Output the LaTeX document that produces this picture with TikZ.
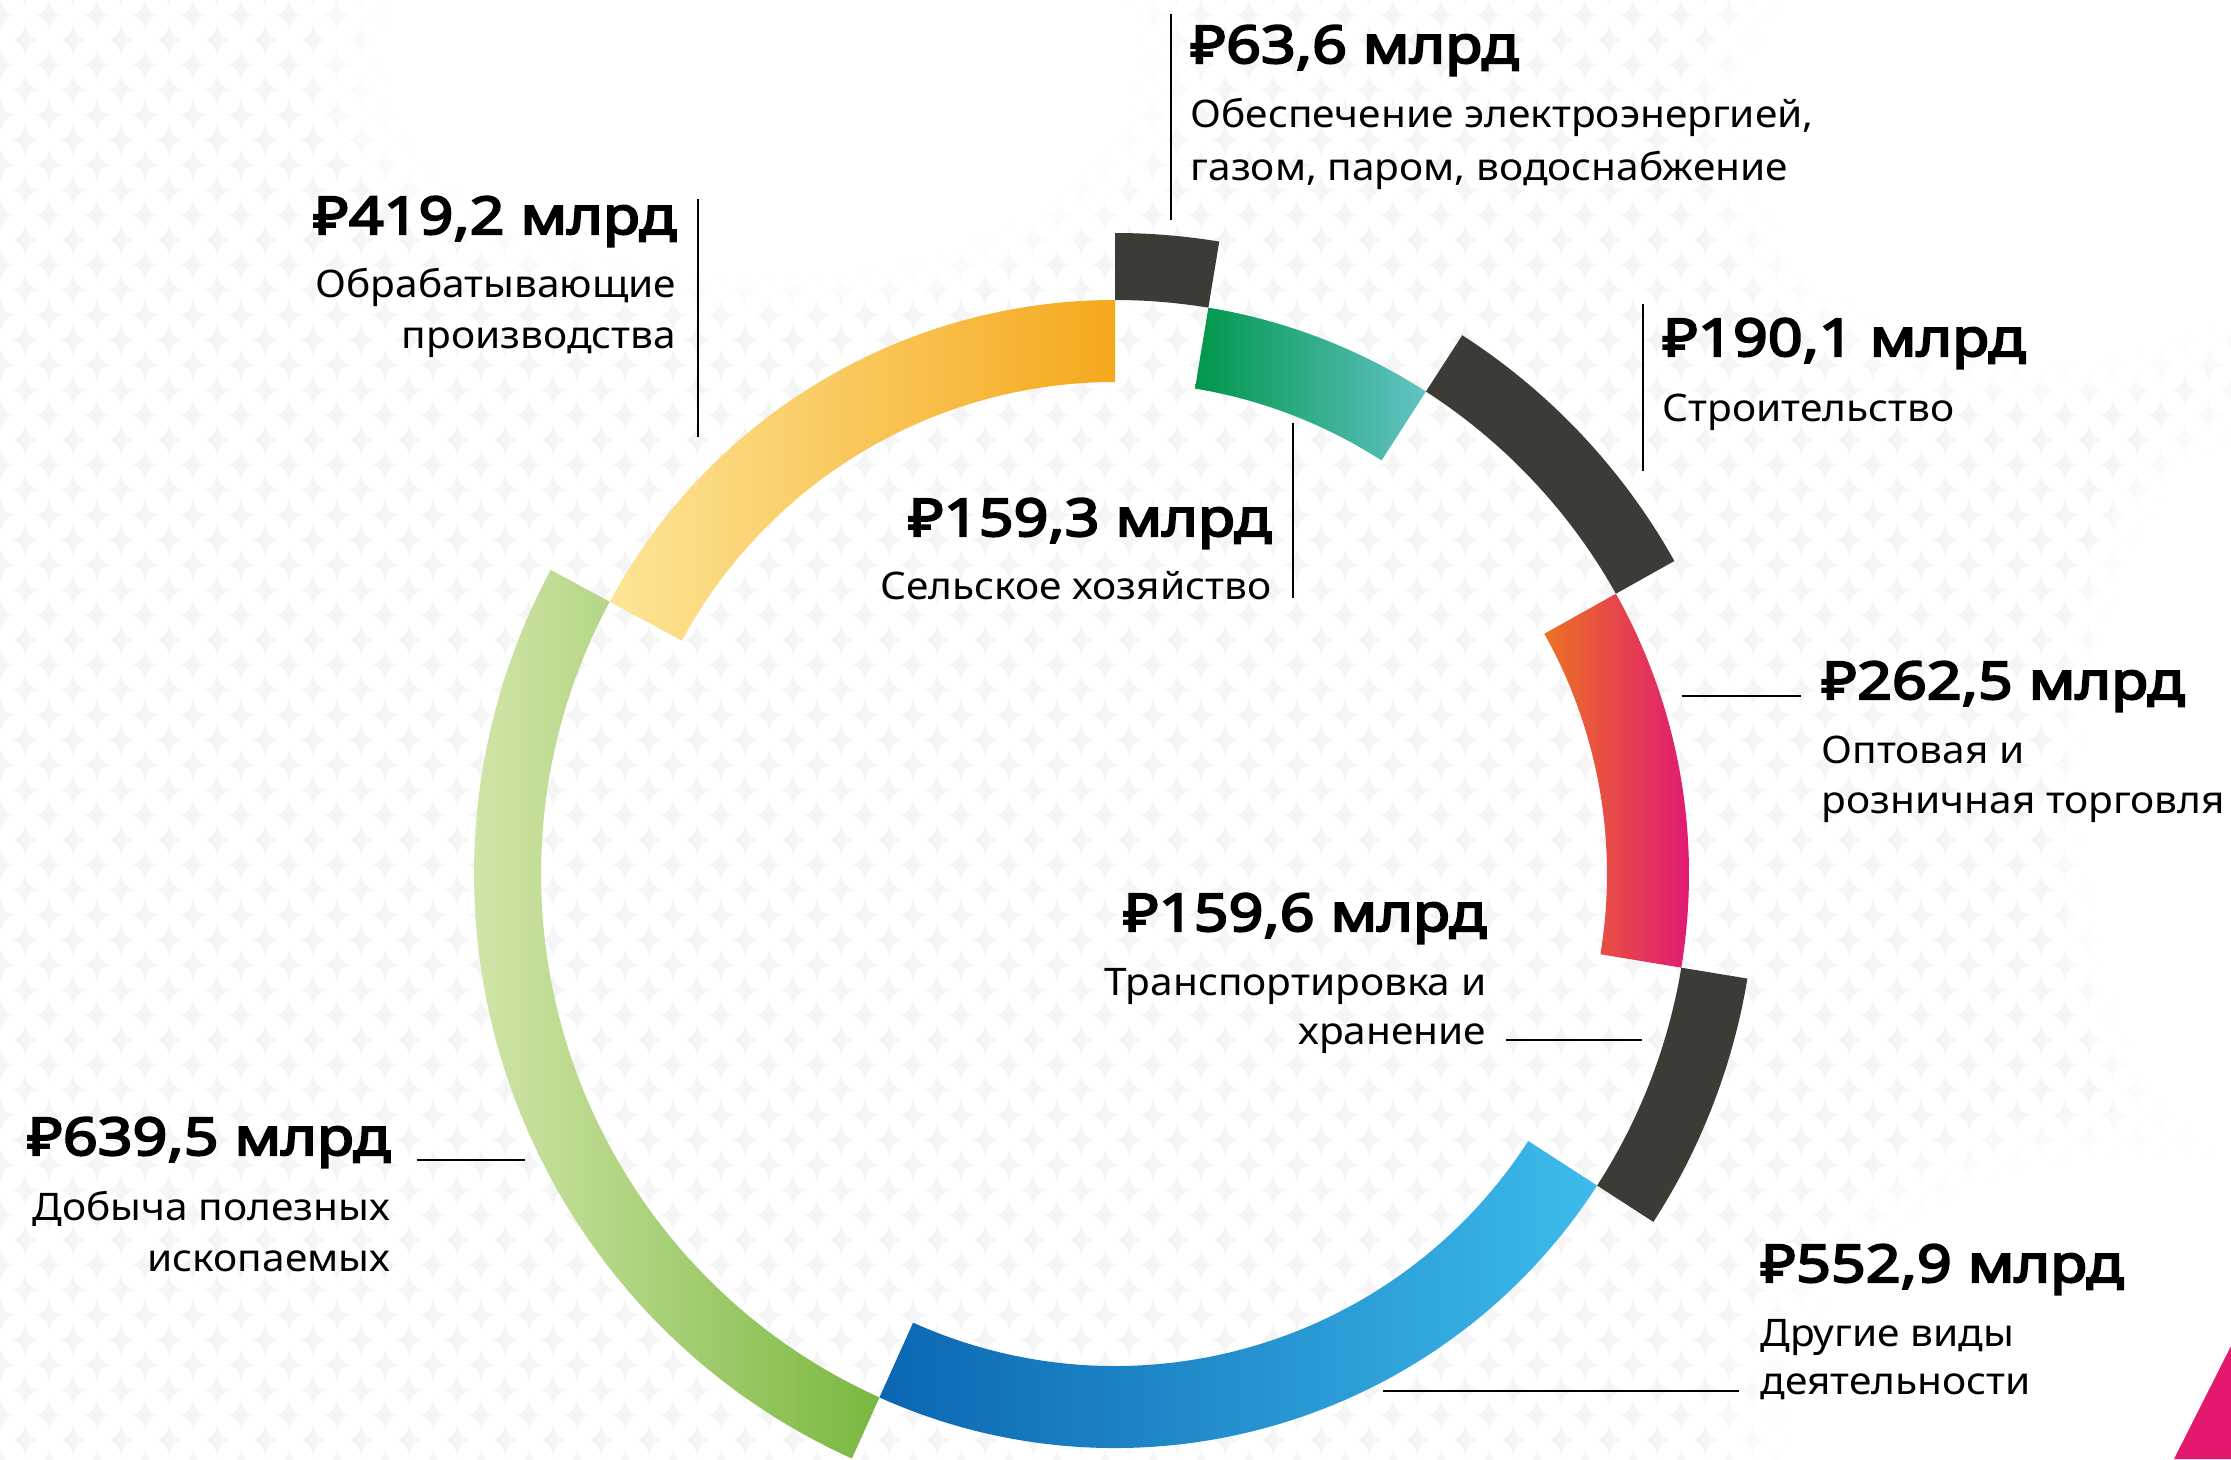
\documentclass[tikz,border=0pt]{standalone}
\usepackage{fontspec}
\usetikzlibrary{calc,fadings}
\newfontfamily\mainsans[FakeStretch=1.07]{Noto Sans}
\newfontfamily\boldsans[FakeStretch=1.17, FakeBold=4]{Noto Sans}
\newcommand\valfont{\boldsans\fontsize{14.8}{17}\selectfont}
\newcommand\descfont{\mainsans\fontsize{10.8}{13}\selectfont}

\definecolor{segdark}{HTML}{3C3C37}
\definecolor{sparkgray}{HTML}{F5F5F5}
\definecolor{ylA}{HTML}{FDE597}
\definecolor{ylB}{HTML}{FFCC00}
\definecolor{ylC}{HTML}{F5A81C}
\definecolor{grA}{HTML}{00974A}
\definecolor{grB}{HTML}{62C3C6}
\definecolor{rdA}{HTML}{EC7222}
\definecolor{rdB}{HTML}{E6443F}
\definecolor{rdC}{HTML}{E0117B}
\definecolor{blA}{HTML}{0B66B2}
\definecolor{blB}{HTML}{3DBBEA}
\definecolor{lgA}{HTML}{D3E6AB}
\definecolor{lgB}{HTML}{B6D782}
\definecolor{lgC}{HTML}{79B83F}
\definecolor{corner}{HTML}{E5186F}

% annular sector: start angle, end angle, inner radius, outer radius
\newcommand\ringseg[4]{($(c)+(#1:#4)$) arc[start angle=#1, end angle=#2, radius=#4] -- ($(c)+(#2:#3)$) arc[start angle=#2, end angle=#1, radius=#3] -- cycle}
% one star of the background
\newcommand\spark[2]{(#1,#2+16) .. controls (#1+2,#2+6) and (#1+5,#2+2) .. (#1+13,#2) .. controls (#1+5,#2-2) and (#1+2,#2-6) .. (#1,#2-16) .. controls (#1-2,#2-6) and (#1-5,#2-2) .. (#1-13,#2) .. controls (#1-5,#2+2) and (#1-2,#2+6) .. cycle}

\begin{document}
\begin{tikzpicture}[x=0.01cm,y=0.01cm,
  leader/.style={line width=0.6pt, black},
  val/.style={font=\valfont, inner sep=0pt},
  desc/.style={font=\descfont, inner sep=0pt}]
\useasboundingbox (0,0) rectangle (2231,1459);
\fill[white] (0,0) rectangle (2231,1459);
% background pattern
\begin{scope}
\clip (0,0) rectangle (2231,1459);
\fill[sparkgray] \foreach \i in {0,...,46} {\foreach \j in {-1,...,29} {\spark{1+48*\i}{44+50*\j} \spark{25+48*\i}{19+50*\j}}};
\fill[white, path fading=circle with fuzzy edge 20 percent] (760,1400) ellipse [x radius=470, y radius=270];
\fill[white, path fading=circle with fuzzy edge 20 percent] (2050,1339) ellipse [x radius=380, y radius=300];
\fill[white, path fading=circle with fuzzy edge 20 percent] (2260,659) ellipse [x radius=220, y radius=450];
\fill[white, path fading=circle with fuzzy edge 20 percent] (2150,39) ellipse [x radius=450, y radius=330];
\end{scope}
\fill[corner] (2231,113) -- (2174,0) -- (2231,0) -- cycle;

% ring
\coordinate (c) at (1115,585);
\fill[segdark] \ringseg{90}{80.64}{574}{641};
\shade[left color=grA, right color=grB] \ringseg{80.64}{57.20}{492}{574};
\fill[segdark] \ringseg{57.20}{29.23}{574}{641};
\shade[left color=rdA, middle color=rdB, right color=rdC] \ringseg{29.23}{-9.39}{492}{574};
\fill[segdark] \ringseg{-9.39}{-32.87}{574}{641};
\shade[left color=blA, right color=blB] \ringseg{-32.87}{-114.23}{492}{574};
\shade[left color=lgA, middle color=lgB, right color=lgC] \ringseg{-114.23}{-208.32}{574}{641};
\shade[left color=ylA, middle color=ylB, right color=ylC] \ringseg{-208.32}{-270}{492}{574};

% labels
\node[val, anchor=base west] (v1) at (1190,1396) {₽63,6 млрд};
\node[desc, anchor=base west] (d1a) at (1190,1331) {Обеспечение электроэнергией,};
\node[desc, anchor=base west] (d1b) at (1190,1279) {газом, паром, водоснабжение};
\coordinate (l1a) at (1171,1445); \coordinate (l1b) at (1171,1239);
\draw[leader] (l1a) -- (l1b);

\node[val, anchor=base east] (v2) at (677,1225) {₽419,2 млрд};
\node[desc, anchor=base east] (d2a) at (677,1162) {Обрабатывающие};
\node[desc, anchor=base east] (d2b) at (677,1111) {производства};
\coordinate (l2a) at (698,1260); \coordinate (l2b) at (698,1022);
\draw[leader] (l2a) -- (l2b);

\node[val, anchor=base west] (v3) at (1662,1103) {₽190,1 млрд};
\node[desc, anchor=base west] (d3a) at (1662,1038) {Строительство};
\coordinate (l3a) at (1643,1155); \coordinate (l3b) at (1643,988);
\draw[leader] (l3a) -- (l3b);

\node[val, anchor=base east] (v4) at (1272,923) {₽159,3 млрд};
\node[desc, anchor=base east] (d4a) at (1272,860) {Сельское хозяйство};
\coordinate (l4a) at (1293,1036); \coordinate (l4b) at (1293,861);
\draw[leader] (l4a) -- (l4b);

\node[val, anchor=base west] (v5) at (1821,760) {₽262,5 млрд};
\node[desc, anchor=base west] (d5a) at (1821,696) {Оптовая и};
\node[desc, anchor=base west] (d5b) at (1821,646) {розничная торговля};
\coordinate (l5a) at (1682,763); \coordinate (l5b) at (1801,763);
\draw[leader] (l5a) -- (l5b);

\node[val, anchor=base east] (v6) at (1487,528) {₽159,6 млрд};
\node[desc, anchor=base east] (d6a) at (1487,464) {Транспортировка и};
\node[desc, anchor=base east] (d6b) at (1487,415) {хранение};
\coordinate (l6a) at (1506,419); \coordinate (l6b) at (1642,419);
\draw[leader] (l6a) -- (l6b);

\node[val, anchor=base east] (v7) at (391,304) {₽639,5 млрд};
\node[desc, anchor=base east] (d7a) at (391,239) {Добыча полезных};
\node[desc, anchor=base east] (d7b) at (391,188) {ископаемых};
\coordinate (l7a) at (417,299); \coordinate (l7b) at (525,299);
\draw[leader] (l7a) -- (l7b);

\node[val, anchor=base west] (v8) at (1760,177) {₽552,9 млрд};
\node[desc, anchor=base west] (d8a) at (1760,113) {Другие виды};
\node[desc, anchor=base west] (d8b) at (1760,65) {деятельности};
\coordinate (l8a) at (1383,68); \coordinate (l8b) at (1739,68);
\draw[leader] (l8a) -- (l8b);
\end{tikzpicture}
\end{document}
